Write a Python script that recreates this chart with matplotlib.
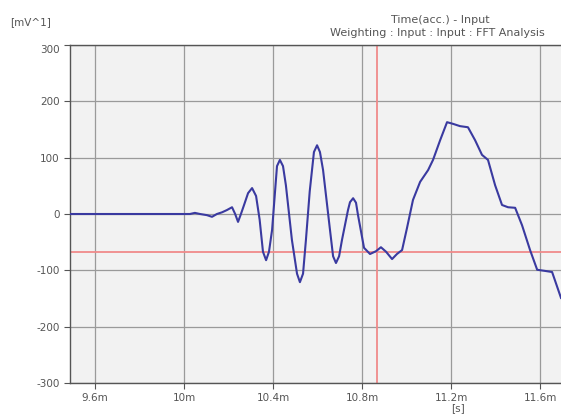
import matplotlib.pyplot as plt
import numpy as np

# time axis in ms, signal level in mV^1
time_ms = [9.488, 10.027, 10.049, 10.072, 10.103, 10.126, 10.148, 10.171, 10.193, 10.216,
           10.230, 10.243, 10.256, 10.270, 10.288, 10.306, 10.324, 10.340, 10.355, 10.369,
           10.382, 10.396, 10.418, 10.431, 10.445, 10.458, 10.485, 10.508, 10.521, 10.535,
           10.548, 10.565, 10.584, 10.598, 10.611, 10.625, 10.656, 10.670, 10.683, 10.697,
           10.710, 10.737, 10.746, 10.760, 10.773, 10.782, 10.809, 10.836, 10.863, 10.885,
           10.908, 10.935, 10.957, 10.980, 11.002, 11.029, 11.061, 11.097, 11.119, 11.151,
           11.182, 11.209, 11.240, 11.276, 11.308, 11.339, 11.366, 11.398, 11.429, 11.456,
           11.488, 11.519, 11.555, 11.587, 11.622, 11.654, 11.694]
level = [0, 0, 2, 0, -2, -5, 0, 3, 7, 12,
         0, -14, 0, 16, 37, 46, 32, -10, -67, -82,
         -67, -28, 85, 96, 85, 51, -46, -106, -121, -106,
         -46, 40, 110, 122, 110, 78, -28, -75, -87, -75,
         -46, 7, 21, 28, 20, -2, -60, -71, -66, -59,
         -67, -80, -71, -64, -25, 25, 57, 78, 96, 131,
         163, 160, 156, 154, 131, 105, 96, 51, 16, 12,
         11, -20, -64, -99, -101, -103, -149]

x_ticks = [9.6, 10.0, 10.4, 10.8, 11.2, 11.6]
x_labels = ["9.6m", "10m", "10.4m", "10.8m", "11.2m", "11.6m"]
y_ticks = [300, 200, 100, 0, -100, -200, -300]
y_labels = ["300", "200", "100", "0", "-100", "-200", "-300"]

cursor_t = 10.867
cursor_v = -67

W, H = 561, 419
fig = plt.figure(figsize=(W / 100, H / 100), dpi=100)
ax = fig.add_axes([70 / W, (H - 383) / H, 491 / W, 338 / H])
ax.set_facecolor('#f2f2f2')

ax.set_xlim(9.488, 11.694)
ax.set_ylim(-300, 300)

ax.set_xticks(x_ticks)
ax.set_xticklabels(x_labels)
ax.set_yticks(y_ticks)
ax.set_yticklabels(y_labels)
ax.tick_params(labelsize=7.5, colors='#555555', length=4, width=0.8)
ax.get_yticklabels()[0].set_verticalalignment('top')

ax.grid(True, color='#9a9a9a', linewidth=0.9)
ax.set_axisbelow(True)

for side in ['left', 'top', 'bottom']:
    ax.spines[side].set_color('#555555')
    ax.spines[side].set_linewidth(1.0)
ax.spines['right'].set_visible(False)

# cursors
ax.axhline(cursor_v, color='#f08a8a', linewidth=1.3, zorder=2)
ax.axvline(cursor_t, color='#f08a8a', linewidth=1.3, zorder=2)

ax.plot(time_ms, level, color='#3a3aa0', linewidth=1.5, zorder=3)

txt = '#555555'
fig.text(10 / W, 1 - 22 / H, "[mV^1]", fontsize=7.5, color=txt, va='center')
fig.text(490 / W, 1 - 20 / H, "Time(acc.) - Input", fontsize=8, color=txt,
         ha='right', va='center')
fig.text(330 / W, 1 - 33 / H, "Weighting : Input : Input : FFT Analysis", fontsize=8,
         color=txt, ha='left', va='center')
fig.text(458 / W, 1 - 408 / H, "[s]", fontsize=7.5, color=txt, ha='center', va='center')

fig.savefig('out.png', dpi=100)
